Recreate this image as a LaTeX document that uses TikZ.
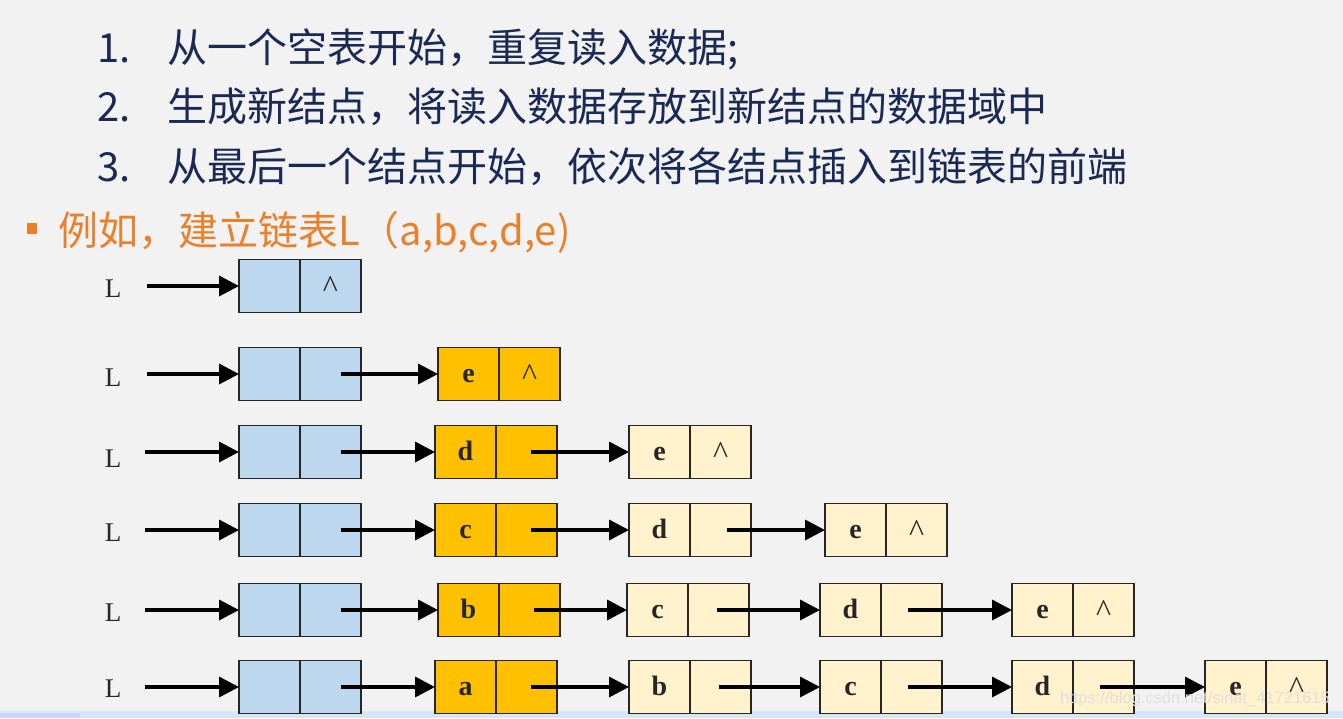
\documentclass[tikz,border=0pt]{standalone}
\usepackage{fontspec}
\setmainfont{Liberation Serif}
\newfontfamily\cjk{Noto Sans CJK SC}
\newfontfamily\wmfont{Liberation Sans}
\usetikzlibrary{arrows.meta}
\definecolor{bg}{HTML}{F2F2F2}
\definecolor{navy}{HTML}{1B2A55}
\definecolor{orng}{HTML}{E8802C}
\definecolor{hblue}{HTML}{BDD7EE}
\definecolor{gold}{HTML}{FFC000}
\definecolor{cream}{HTML}{FFF2CC}
\definecolor{strip}{HTML}{D3E8F4}
\tikzset{
  cell/.style={draw=black!85, line width=1.8pt, minimum width=61pt, minimum height=53pt,
    inner sep=0pt, outer sep=0pt, text height=16pt, text depth=0pt,
    font=\fontsize{28}{28}\selectfont\bfseries, text=black!85},
  headn/.style={fill=hblue},
  newn/.style={fill=gold},
  oldn/.style={fill=cream},
  lnk/.style={line width=3.5pt, -{Triangle[length=20pt,width=20pt]}},
  llab/.style={font=\fontsize{27}{27}\selectfont, text=black!85},
  hdr/.style={anchor=base west, inner sep=0pt, text=navy, font=\cjk\fontsize{40}{40}\selectfont},
}
\newcommand\lpair[6]{%
  \node[cell,#4,anchor=west] (#1a) at (#2,#3) {#5};
  \node[cell,#4,anchor=west] (#1b) at (#1a.east) {#6};}
\newcommand\nil{{\mdseries\fontsize{32}{32}\selectfont\raisebox{-3pt}{\textasciicircum}}}
\newcommand\nxt[3]{\draw[lnk] ([xshift=#3]#1b.center) -- (#2a.west);}
\begin{document}
\begin{tikzpicture}[x=1pt,y=-1pt]
\fill[bg] (0,0) rectangle (1343,718);
\useasboundingbox (0,0) rectangle (1343,718);
\fill[strip] (0,711) rectangle (1343,718);
\fill[strip!80!blue!60] (0,713) rectangle (80,718);

% header text
\node[hdr] (n1) at (97,62) {1.};
\node[hdr] (t1) at (167,62) {从一个空表开始，重复读入数据;};
\node[hdr] (n2) at (97,121) {2.};
\node[hdr] (t2) at (167,121) {生成新结点，将读入数据存放到新结点的数据域中};
\node[hdr] (n3) at (97,181) {3.};
\node[hdr] (t3) at (167,181) {从最后一个结点开始，依次将各结点插入到链表的前端};
\fill[orng] (27,223) rectangle (37,234);
\node[hdr,text=orng] (ex) at (58,245) {例如，建立链表L（a,b,c,d,e)};

% row 1
\node[llab] (L1) at (113,289) {L};
\coordinate (s1) at (147,286);
\lpair{r1n1}{239}{286}{headn}{}{\nil}
\draw[lnk] (s1) -- (r1n1a.west);

% row 2
\node[llab] (L2) at (113,378) {L};
\coordinate (s2) at (147,374);
\lpair{r2n1}{239}{374}{headn}{}{}
\lpair{r2n2}{438}{374}{newn}{e}{\nil}
\draw[lnk] (s2) -- (r2n1a.west);
\nxt{r2n1}{r2n2}{10pt}

% row 3
\node[llab] (L3) at (113,459) {L};
\coordinate (s3) at (145,452);
\lpair{r3n1}{239}{452}{headn}{}{}
\lpair{r3n2}{435}{452}{newn}{d}{}
\lpair{r3n3}{629}{452}{oldn}{e}{\nil}
\draw[lnk] (s3) -- (r3n1a.west);
\nxt{r3n1}{r3n2}{10pt}
\nxt{r3n2}{r3n3}{4pt}

% row 4
\node[llab] (L4) at (113,533) {L};
\coordinate (s4) at (145,530);
\lpair{r4n1}{239}{530}{headn}{}{}
\lpair{r4n2}{435}{530}{newn}{c}{}
\lpair{r4n3}{629}{530}{oldn}{d}{}
\lpair{r4n4}{825}{530}{oldn}{e}{\nil}
\draw[lnk] (s4) -- (r4n1a.west);
\nxt{r4n1}{r4n2}{10pt}
\nxt{r4n2}{r4n3}{4pt}
\nxt{r4n3}{r4n4}{6pt}

% row 5
\node[llab] (L5) at (113,613) {L};
\coordinate (s5) at (145,610);
\lpair{r5n1}{239}{610}{headn}{}{}
\lpair{r5n2}{438}{610}{newn}{b}{}
\lpair{r5n3}{627}{610}{oldn}{c}{}
\lpair{r5n4}{820}{610}{oldn}{d}{}
\lpair{r5n5}{1012}{610}{oldn}{e}{\nil}
\draw[lnk] (s5) -- (r5n1a.west);
\nxt{r5n1}{r5n2}{10pt}
\nxt{r5n2}{r5n3}{4pt}
\nxt{r5n3}{r5n4}{-2pt}
\nxt{r5n4}{r5n5}{-4pt}

% row 6
\node[llab] (L6) at (113,689) {L};
\coordinate (s6) at (145,687);
\lpair{r6n1}{239}{687}{headn}{}{}
\lpair{r6n2}{435}{687}{newn}{a}{}
\lpair{r6n3}{629}{687}{oldn}{b}{}
\lpair{r6n4}{820}{687}{oldn}{c}{}
\lpair{r6n5}{1012}{687}{oldn}{d}{}
\lpair{r6n6}{1205}{687}{oldn}{e}{\nil}
\draw[lnk] (s6) -- (r6n1a.west);
\nxt{r6n1}{r6n2}{10pt}
\nxt{r6n2}{r6n3}{4pt}
\nxt{r6n3}{r6n4}{-2pt}
\nxt{r6n4}{r6n5}{-4pt}
\nxt{r6n5}{r6n6}{-4pt}

% watermark
\node[anchor=east, inner sep=0pt, text=white!75!gray, font=\wmfont\fontsize{16.5}{16.5}\selectfont] (wm) at (1330,699) {https://blog.csdn.net/sinat\_41721615};
\end{tikzpicture}
\end{document}
